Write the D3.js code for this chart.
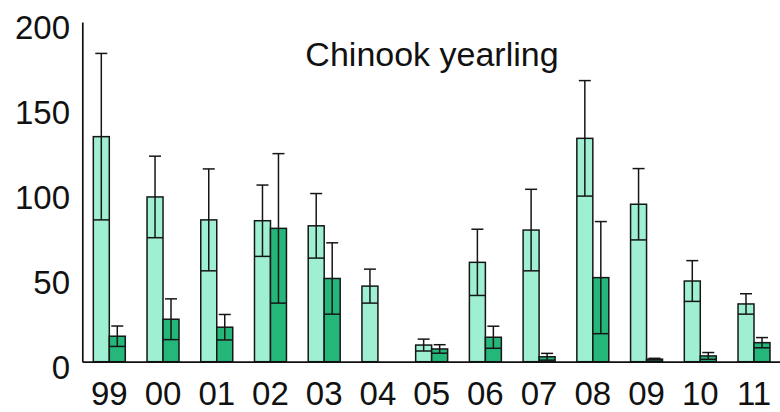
<!DOCTYPE html>
<html>
<head>
<meta charset="utf-8">
<script src="https://cdn.jsdelivr.net/npm/d3@7"></script>
<style>
  html, body { margin: 0; padding: 0; background: #fff; }
  svg { display: block; }
  text { font-family: "Liberation Sans", Arial, Helvetica, sans-serif; fill: #111; }
</style>
</head>
<body>
<svg id="chart" width="780" height="412"></svg>
<script>
// Survey years (two-digit labels)
const years = ["99","00","01","02","03","04","05","06","07","08","09","10","11"];
// First series (light bars) and its error half-widths
const lightValues = [132.5, 97, 83.5, 83, 80, 44.5, 9.8, 58.5, 77.5, 131.5, 92.7, 47.5, 34];
const lightErrors = [49, 24, 30, 21, 19, 10, 3.5, 19.5, 24, 34, 21, 12, 6];
// Second series (dark bars) and its error half-widths
const darkValues = [15, 25, 20.3, 78.5, 49, 0, 7.5, 14.4, 2.9, 49.5, 1.5, 3.4, 11.2];
const darkErrors = [6, 12, 7.5, 44, 21, 0, 2.5, 6.5, 2, 33, 0.5, 2, 3];
// Axis ticks and title
const yTicks = [0, 50, 100, 150, 200];
const title = "Chinook yearling";

const series = [
  { key: "light", values: lightValues, errors: lightErrors, fill: "#9ff0d2" },
  { key: "dark", values: darkValues, errors: darkErrors, fill: "#25b77a" }
];

const svg = d3.select("#chart");
const plotLeft = 82.3, plotRight = 781, plotTop = 22, plotBottom = 361.7;

const x = d3.scaleBand()
  .domain(years)
  .range([plotLeft, plotRight])
  .paddingInner(0.405)
  .paddingOuter(0.205);

const xSub = d3.scaleBand()
  .domain(series.map(s => s.key))
  .range([0, x.bandwidth()]);

const y = d3.scaleLinear().domain([0, 200]).range([plotBottom, plotTop]);

// Bars
series.forEach(s => {
  const rows = years.map((yr, i) => ({ yr, v: s.values[i], e: s.errors[i] })).filter(d => d.v > 0);
  const g = svg.append("g").attr("class", "series-" + s.key);

  g.selectAll("rect")
    .data(rows)
    .join("rect")
    .attr("x", d => x(d.yr) + xSub(s.key))
    .attr("y", d => y(d.v))
    .attr("width", xSub.bandwidth())
    .attr("height", d => y(0) - y(d.v))
    .attr("fill", s.fill)
    .attr("stroke", "#161616")
    .attr("stroke-width", 1.5);

  // Error bars: stem, short upper cap, full-width lower cap
  const eb = g.selectAll("g.err").data(rows).join("g").attr("class", "err")
    .attr("stroke", "#161616").attr("stroke-width", 1.5);
  const cx = d => x(d.yr) + xSub(s.key) + xSub.bandwidth() / 2;
  eb.append("line")
    .attr("x1", cx).attr("x2", cx)
    .attr("y1", d => y(d.v + d.e)).attr("y2", d => y(Math.max(0, d.v - d.e)));
  eb.append("line")
    .attr("x1", d => cx(d) - 6).attr("x2", d => cx(d) + 6)
    .attr("y1", d => y(d.v + d.e)).attr("y2", d => y(d.v + d.e));
  eb.append("line")
    .attr("x1", d => x(d.yr) + xSub(s.key)).attr("x2", d => x(d.yr) + xSub(s.key) + xSub.bandwidth())
    .attr("y1", d => y(Math.max(0, d.v - d.e))).attr("y2", d => y(Math.max(0, d.v - d.e)));
});

// Y axis
const yAxis = svg.append("g")
  .attr("transform", `translate(${plotLeft},0)`)
  .call(d3.axisLeft(y).tickValues(yTicks).tickSize(0).tickSizeOuter(0).tickPadding(12));
yAxis.select(".domain").attr("stroke", "#111").attr("stroke-width", 1.7);
yAxis.selectAll(".tick text")
  .attr("font-size", 33)
  .attr("dy", null)
  .attr("y", 16.3)
  .attr("x", -12.3);

// X axis
const xAxis = svg.append("g")
  .attr("transform", `translate(0,${plotBottom})`)
  .call(d3.axisBottom(x).tickSize(0).tickSizeOuter(0).tickPadding(0));
xAxis.select(".domain").attr("stroke", "#111").attr("stroke-width", 1.7);
xAxis.selectAll(".tick text")
  .attr("font-size", 33)
  .attr("dy", null)
  .attr("y", 43.5);

// Title
svg.append("text")
  .attr("x", 432)
  .attr("y", 66)
  .attr("text-anchor", "middle")
  .attr("font-size", 34)
  .text(title);
</script>
</body>
</html>
